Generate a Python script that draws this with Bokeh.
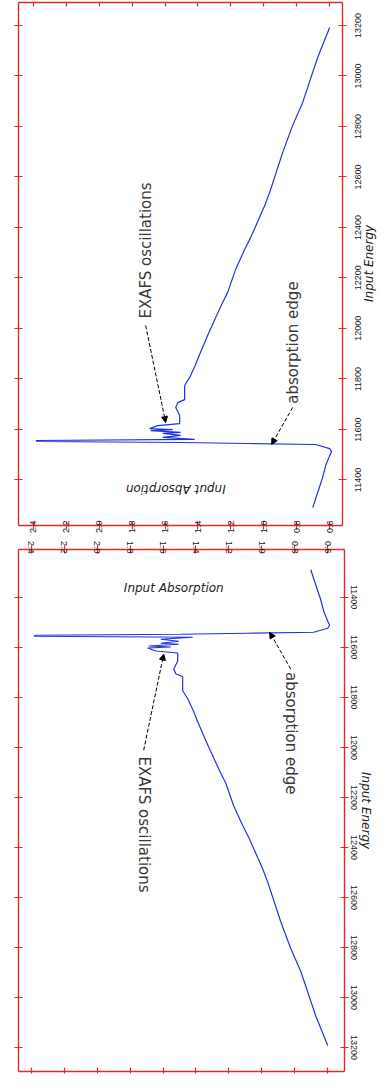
import math
from bokeh.plotting import figure
from bokeh.models import (Range1d, LinearAxis, FixedTicker, Arrow, NormalHead,
                          PrintfTickFormatter)
from bokeh.layouts import column
from bokeh.core.properties import value
from bokeh.embed import file_html
from bokeh.resources import INLINE

# ---- data ----
energy = [11289, 11349, 11408, 11456, 11495, 11511, 11523, 11539, 11543, 11547,
          11551, 11555, 11559, 11567, 11575, 11583, 11587, 11594, 11598, 11602,
          11614, 11622, 11654, 11686, 11705, 11717, 11773, 11805, 11856, 11896,
          11971, 12042, 12102, 12142, 12233, 12312, 12360, 12486, 12538, 12696,
          12804, 12895, 13073, 13192]
absorption = [0.702, 0.672, 0.642, 0.623, 0.599, 0.587, 0.599, 0.684, 1.098, 1.493,
              2.374, 2.385, 1.420, 1.614, 1.505, 1.614, 1.505, 1.687, 1.554, 1.694,
              1.645, 1.511, 1.511, 1.535, 1.523, 1.481, 1.481, 1.450, 1.414, 1.390,
              1.341, 1.292, 1.250, 1.219, 1.171, 1.116, 1.079, 0.994, 0.964, 0.885,
              0.824, 0.763, 0.672, 0.599]
energy_ticks = [11400, 11600, 11800, 12000, 12200, 12400, 12600, 12800, 13000, 13200]
absorption_ticks = [0.6, 0.8, 1.0, 1.2, 1.4, 1.6, 1.8, 2.0, 2.2, 2.4]

x_title = "Input Absorption"
y_title = "Input Energy"
note_texts = ["EXAFS oscillations", "absorption edge"]
note_x = [1.718, 0.824]
note_y = [12308, 11943]
arrow_from = [(1.718, 12011), (0.824, 11686)]
arrow_to = [(1.596, 11626), (0.952, 11539)]
title_pos = (1.535, 11361)

# rotated texts on the right start at their anchor: offsets to centre them
LABEL_SHIFT = 50            # half a tick label's length, in energy units
TITLE_START = {False: 12104, True: 12098}

RED = "#e02a2a"
BLUE = "#2233dd"
TXT = "#222222"


def frame_axis(ticks, tin=4, tout=4):
    ax = LinearAxis(ticker=FixedTicker(ticks=ticks, minor_ticks=[]))
    ax.axis_line_color = RED
    ax.axis_line_width = 1.4
    ax.major_tick_line_color = RED
    ax.major_tick_line_width = 1.2
    ax.major_tick_in = tin
    ax.major_tick_out = tout
    ax.minor_tick_line_color = None
    ax.major_label_text_color = None
    ax.major_label_text_font_size = "1px"
    ax.major_label_standoff = 0
    return ax


def label_axis(ticks, overrides, orient, standoff, size, font, style="normal"):
    ax = LinearAxis(ticker=FixedTicker(ticks=ticks, minor_ticks=[]))
    ax.axis_line_color = None
    ax.major_tick_line_color = None
    ax.minor_tick_line_color = None
    ax.major_tick_in = 0
    ax.major_tick_out = 0
    ax.major_label_overrides = overrides
    ax.major_label_orientation = orient
    ax.major_label_standoff = standoff
    ax.major_label_text_font = font
    ax.major_label_text_font_size = size
    ax.major_label_text_font_style = style
    ax.major_label_text_color = TXT
    return ax


def make_panel(flip):
    if not flip:
        xr = Range1d(2.491, 0.521)
        yr = Range1d(11218, 13291)
        fw, fh, mbl, mbt, mbb, mbr = 324, 523, 13, 2, 12, 20
        ang = math.pi / 2
        lab_sd, tit_sd, abs_sd = 12, 2, -9
    else:
        xr = Range1d(2.479, 0.497)
        yr = Range1d(13296, 11208)
        fw, fh, mbl, mbt, mbb, mbr = 326, 522, 18, 9, 4, 20
        ang = -math.pi / 2
        lab_sd, tit_sd, abs_sd = 5, 3, -8

    p = figure(frame_width=fw, frame_height=fh, x_range=xr, y_range=yr, title=None,
               output_backend="svg", toolbar_location=None,
               x_axis_location=None, y_axis_location=None,
               min_border_left=mbl, min_border_top=mbt,
               min_border_bottom=mbb, min_border_right=mbr)
    p.outline_line_color = None
    p.xgrid.visible = False
    p.ygrid.visible = False
    p.background_fill_color = "white"
    p.border_fill_color = "white"

    # absorption axis (labels between the two panels)
    ab = frame_axis(absorption_ticks, 4, 4)
    ab.formatter = PrintfTickFormatter(format="%.1f")
    ab.major_label_text_color = TXT
    ab.major_label_text_font = "Liberation Sans"
    ab.major_label_text_font_size = "9px"
    ab.major_label_orientation = ang
    ab.major_label_standoff = abs_sd
    if not flip:
        p.add_layout(ab, "below")
        p.add_layout(frame_axis(absorption_ticks, 4, 0), "above")
    else:
        p.add_layout(ab, "above")
        p.add_layout(frame_axis(absorption_ticks, 4, 2), "below")

    # energy axis: frame line + ticks, then labels, then title
    p.add_layout(frame_axis(energy_ticks, 4, 4), "right")
    p.add_layout(frame_axis(energy_ticks, 4, 4), "left")
    shifted = [t - LABEL_SHIFT for t in energy_ticks]
    p.add_layout(label_axis(shifted, {s: "%d" % t for s, t in zip(shifted, energy_ticks)},
                            ang, lab_sd, "9px", "Liberation Sans"), "right")
    ts = TITLE_START[flip]
    p.add_layout(label_axis([ts], {ts: y_title}, ang, tit_sd, "12px", "DejaVu Sans",
                            "italic"), "right")

    p.line(absorption, energy, line_color=BLUE, line_width=1.2)

    p.text(x=note_x, y=note_y, text=note_texts, angle=ang,
           text_font=value("DejaVu Sans"), text_font_size="15px",
           text_color="#3a3a3a", text_align="center", text_baseline="middle")
    p.text(x=[title_pos[0]], y=[title_pos[1]], text=[x_title],
           angle=(0.0 if flip else math.pi),
           text_font=value("DejaVu Sans"), text_font_size="12px",
           text_font_style="italic", text_color=TXT,
           text_align="center", text_baseline="middle")
    for (xs, ys), (xe, ye) in zip(arrow_from, arrow_to):
        p.add_layout(Arrow(end=NormalHead(size=6, fill_color="black", line_color="black"),
                           x_start=xs, y_start=ys, x_end=xe, y_end=ye,
                           line_color="black", line_width=1, line_dash="4 2"))
    return p


top = make_panel(False)
bottom = make_panel(True)
layout = column(top, bottom, spacing=0)
open("out.html", "w").write(file_html(layout, INLINE))
